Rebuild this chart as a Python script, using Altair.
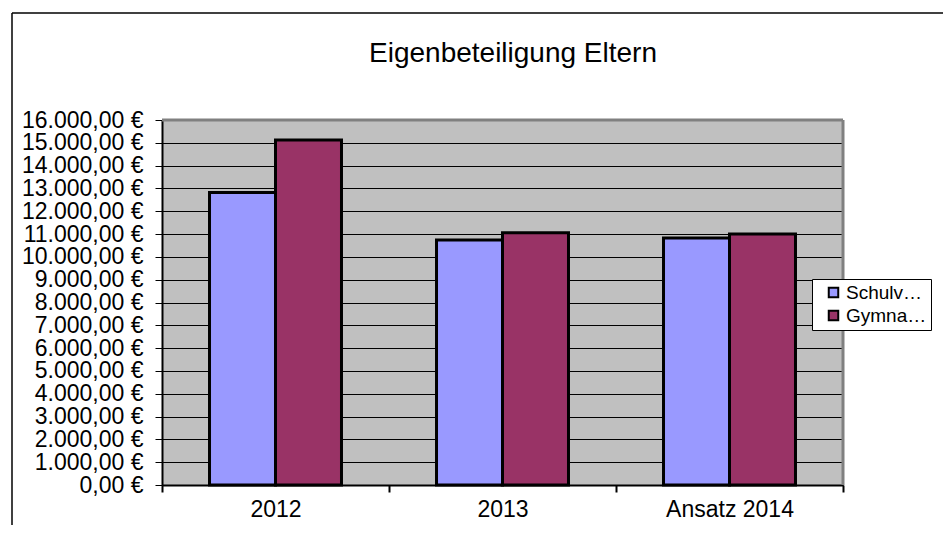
import altair as alt
import pandas as pd

categories = ["2012", "2013", "Ansatz 2014"]
series = ["Schulv…", "Gymna…"]
schulv = [12820, 10740, 10830]
gymna = [15120, 11060, 11000]
colors = ["#9999FF", "#993366"]
y_ticks = list(range(0, 16001, 1000))
title_text = ["Eigenbeteiligung Eltern"]

rows = []
for i, c in enumerate(categories):
    rows.append({"cat": c, "series": series[0], "value": schulv[i]})
    rows.append({"cat": c, "series": series[1], "value": gymna[i]})
df = pd.DataFrame(rows)

W, H = 681, 365
FONT = "Liberation Sans"

bars = alt.Chart(df).mark_bar(stroke="black", strokeWidth=3).encode(
    x=alt.X(
        "cat:N", sort=categories,
        scale=alt.Scale(paddingInner=0, paddingOuter=0),
        axis=alt.Axis(title=None, labelAngle=0, tickBand="extent", tickSize=7,
                      tickColor="black", tickWidth=2, domainColor="black", domainWidth=2,
                      labelFontSize=23, labelPadding=6, labelFont=FONT,
                      labelColor="black", grid=False),
    ),
    xOffset=alt.XOffset("series:N", sort=series,
                        scale=alt.Scale(paddingOuter=0.72, paddingInner=0)),
    y=alt.Y(
        "value:Q",
        scale=alt.Scale(domain=[0, 16000], nice=False),
        axis=alt.Axis(title=None, values=y_ticks, tickSize=7, tickColor="black",
                      domainColor="black", domainWidth=2,
                      gridColor="black", gridWidth=1, gridOpacity=1,
                      labelFontSize=23, labelFont=FONT, labelColor="black",
                      labelPadding=12, labelOverlap=False, labelFlush=False,
                      labelBound=False,
                      labelExpr="datum.value == 0 ? '0,00 €' : format(datum.value/1000, 'd') + '.000,00 €'"),
    ),
    color=alt.Color(
        "series:N", sort=series,
        scale=alt.Scale(domain=series, range=colors),
        legend=alt.Legend(title=None, orient="none", legendX=650, legendY=159,
                          fillColor="white", strokeColor="black", padding=4,
                          symbolType="square", symbolSize=90,
                          symbolStrokeColor="black", symbolStrokeWidth=2,
                          symbolOffset=8, labelFontSize=19, labelFont=FONT,
                          labelColor="black", rowPadding=3, labelOffset=3),
    ),
)

one = pd.DataFrame({"a": [0]})
top_border = alt.Chart(one).mark_rule(color="#808080", strokeWidth=3).encode(
    x=alt.value(0), x2=alt.value(W), y=alt.value(0))
right_border = alt.Chart(one).mark_rule(color="#808080", strokeWidth=3).encode(
    x=alt.value(W), y=alt.value(0), y2=alt.value(H))
frame_left = alt.Chart(one).mark_rule(color="black", strokeWidth=1.5).encode(
    x=alt.value(-150), y=alt.value(-107), y2=alt.value(H + 80))
frame_top = alt.Chart(one).mark_rule(color="black", strokeWidth=1.5).encode(
    x=alt.value(-150), x2=alt.value(W + 200), y=alt.value(-107))

title_df = pd.DataFrame({"t": title_text})
title = alt.Chart(title_df).mark_text(
    font=FONT, fontSize=28, color="black", align="center", baseline="alphabetic"
).encode(text="t:N", x=alt.value(351), y=alt.value(-58))

chart = alt.layer(bars, top_border, right_border, frame_left, frame_top, title).properties(
    width=W, height=H,
    padding={"left": 154, "top": 112, "right": 100, "bottom": 40},
    autosize="none",
).configure_view(fill="#C0C0C0", stroke="transparent")

chart.save("out.html", embed_options={"renderer": "svg", "actions": False})
